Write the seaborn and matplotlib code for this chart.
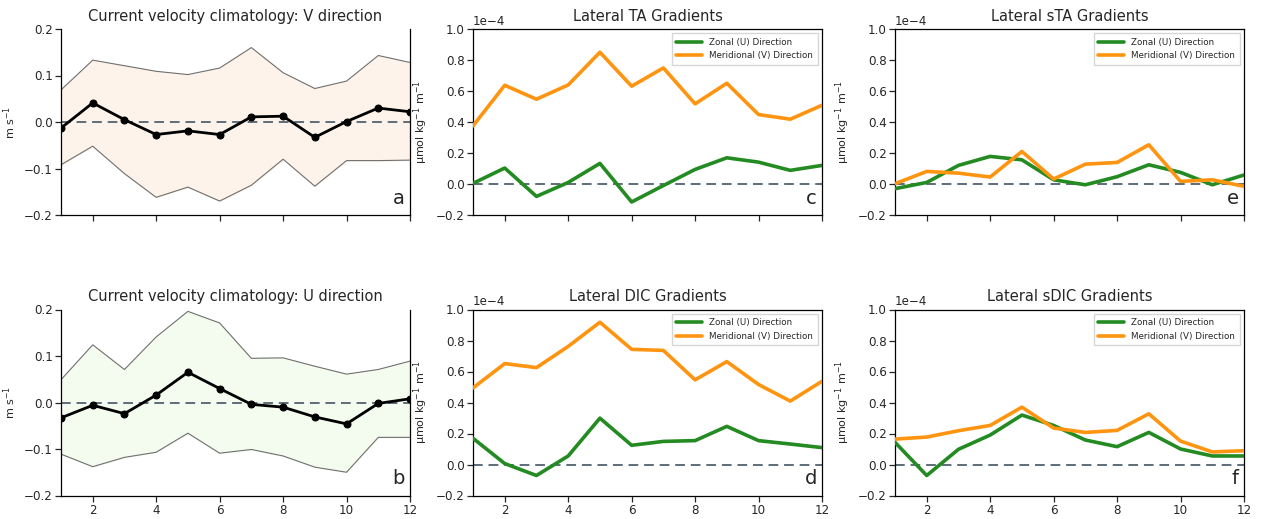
import numpy as np
import pandas as pd
import seaborn as sns
from matplotlib import pyplot as plt

months = list(range(1, 13))

# current velocity climatology (m s-1)
v_mean = [-0.013, 0.041, 0.005, -0.027, -0.019, -0.027, 0.011, 0.0125, -0.033, 0.001, 0.030, 0.022]
v_upper = [0.069, 0.133, 0.121, 0.109, 0.102, 0.116, 0.160, 0.106, 0.072, 0.088, 0.143, 0.128]
v_lower = [-0.092, -0.052, -0.111, -0.162, -0.140, -0.170, -0.136, -0.080, -0.138, -0.083, -0.083, -0.082]

u_mean = [-0.033, -0.006, -0.024, 0.016, 0.065, 0.030, -0.004, -0.010, -0.031, -0.046, -0.002, 0.008]
u_upper = [0.049, 0.124, 0.071, 0.141, 0.196, 0.171, 0.095, 0.096, 0.078, 0.061, 0.071, 0.089]
u_lower = [-0.111, -0.138, -0.118, -0.107, -0.066, -0.109, -0.101, -0.115, -0.139, -0.150, -0.075, -0.075]

# lateral gradients, in units of 1e-4 umol kg-1 m-1
ta_u = [0.004, 0.103, -0.080, 0.010, 0.133, -0.116, -0.010, 0.094, 0.169, 0.141, 0.088, 0.120]
ta_v = [0.375, 0.637, 0.547, 0.639, 0.850, 0.631, 0.749, 0.517, 0.650, 0.448, 0.418, 0.508]
sta_u = [-0.030, 0.010, 0.120, 0.178, 0.156, 0.027, -0.005, 0.047, 0.124, 0.075, -0.005, 0.058]
sta_v = [0.002, 0.081, 0.070, 0.045, 0.210, 0.032, 0.128, 0.139, 0.253, 0.017, 0.027, -0.015]
dic_u = [0.169, 0.006, -0.071, 0.055, 0.299, 0.124, 0.149, 0.154, 0.246, 0.154, 0.132, 0.109]
dic_v = [0.494, 0.651, 0.625, 0.762, 0.918, 0.743, 0.736, 0.546, 0.664, 0.516, 0.409, 0.537]
sdic_u = [0.143, -0.071, 0.098, 0.190, 0.319, 0.252, 0.158, 0.115, 0.207, 0.100, 0.055, 0.055]
sdic_v = [0.164, 0.177, 0.218, 0.252, 0.370, 0.235, 0.207, 0.220, 0.327, 0.151, 0.081, 0.089]

sns.set_theme(style="ticks")
plt.rcParams['font.family'] = ['DejaVu Sans']
plt.rcParams['xtick.labelsize'] = 8.6
plt.rcParams['ytick.labelsize'] = 8.6
plt.rcParams['axes.titlesize'] = 10.5
plt.rcParams['axes.labelsize'] = 8
plt.rcParams['axes.edgecolor'] = 'black'
plt.rcParams['axes.linewidth'] = 0.9

fig = plt.figure(figsize=(12.64, 5.19), dpi=100)

lefts = [61 / 1264, 473 / 1264, 895 / 1264]
w = 349 / 1264
h = 186 / 519
bottoms = [1 - 215 / 519, 1 - 495.5 / 519]

zero_kw = dict(color='#5d6d78', ls='--', lw=1.4, dashes=(5, 3), zorder=1)


def vel_panel(ax, mean, upper, lower, fill, title, letter, show_x):
    df = pd.DataFrame({'month': months, 'mean': mean, 'upper': upper, 'lower': lower})
    ax.fill_between(df['month'], df['lower'], df['upper'], color=fill, zorder=0)
    sns.lineplot(data=df, x='month', y='upper', ax=ax, color='#707070', lw=0.8)
    sns.lineplot(data=df, x='month', y='lower', ax=ax, color='#707070', lw=0.8)
    ax.axhline(0, **zero_kw)
    sns.lineplot(data=df, x='month', y='mean', ax=ax, color='black', lw=2,
                 marker='o', markersize=5, markeredgecolor='black', zorder=3)
    ax.set_ylim(-0.2, 0.2)
    ax.set_yticks([-0.2, -0.1, 0.0, 0.1, 0.2])
    ax.set_ylabel('m s$^{-1}$')
    ax.spines['top'].set_visible(False)
    finish(ax, title, letter, show_x)


def grad_panel(ax, u, v, title, letter, show_x):
    df = pd.DataFrame({'month': months * 2,
                       'value': np.array(u + v) * 1e-4,
                       'series': ['Zonal (U) Direction'] * 12 + ['Meridional (V) Direction'] * 12})
    ax.axhline(0, **zero_kw)
    sns.lineplot(data=df, x='month', y='value', hue='series', ax=ax, lw=2.6,
                 palette=['#238b22', '#ff9410'], zorder=3)
    ax.set_ylim(-0.2e-4, 1.0e-4)
    ax.set_yticks(np.arange(-0.2, 1.01, 0.2) * 1e-4)
    ax.ticklabel_format(axis='y', style='sci', scilimits=(0, 0))
    ax.yaxis.get_offset_text().set_fontsize(8.6)
    ax.set_ylabel('μmol kg$^{-1}$ m$^{-1}$')
    leg = ax.legend(loc='upper right', fontsize=6.3, frameon=True, fancybox=False,
                    edgecolor='#cccccc', handlelength=3.0, borderpad=0.5)
    for line in leg.get_lines():
        line.set_linewidth(2.6)
    finish(ax, title, letter, show_x)


def finish(ax, title, letter, show_x):
    ax.set_xlim(1, 12)
    ax.set_xticks([2, 4, 6, 8, 10, 12])
    ax.set_xlabel('')
    ax.set_title(title)
    ax.tick_params(length=4, width=0.9, pad=2)
    if not show_x:
        ax.set_xticklabels([])
    ax.text(0.985, 0.04, letter, transform=ax.transAxes, ha='right', va='bottom', fontsize=14)


ax_a = fig.add_axes([lefts[0], bottoms[0], w, h])
vel_panel(ax_a, v_mean, v_upper, v_lower, '#fdf3ea', 'Current velocity climatology: V direction', 'a', False)
ax_b = fig.add_axes([lefts[0], bottoms[1], w, h])
vel_panel(ax_b, u_mean, u_upper, u_lower, '#f4fbef', 'Current velocity climatology: U direction', 'b', True)

ax_c = fig.add_axes([lefts[1], bottoms[0], w, h])
grad_panel(ax_c, ta_u, ta_v, 'Lateral TA Gradients', 'c', False)
ax_d = fig.add_axes([lefts[1], bottoms[1], w, h])
grad_panel(ax_d, dic_u, dic_v, 'Lateral DIC Gradients', 'd', True)

ax_e = fig.add_axes([lefts[2], bottoms[0], w, h])
grad_panel(ax_e, sta_u, sta_v, 'Lateral sTA Gradients', 'e', False)
ax_f = fig.add_axes([lefts[2], bottoms[1], w, h])
grad_panel(ax_f, sdic_u, sdic_v, 'Lateral sDIC Gradients', 'f', True)

fig.savefig('out.png', dpi=100)
